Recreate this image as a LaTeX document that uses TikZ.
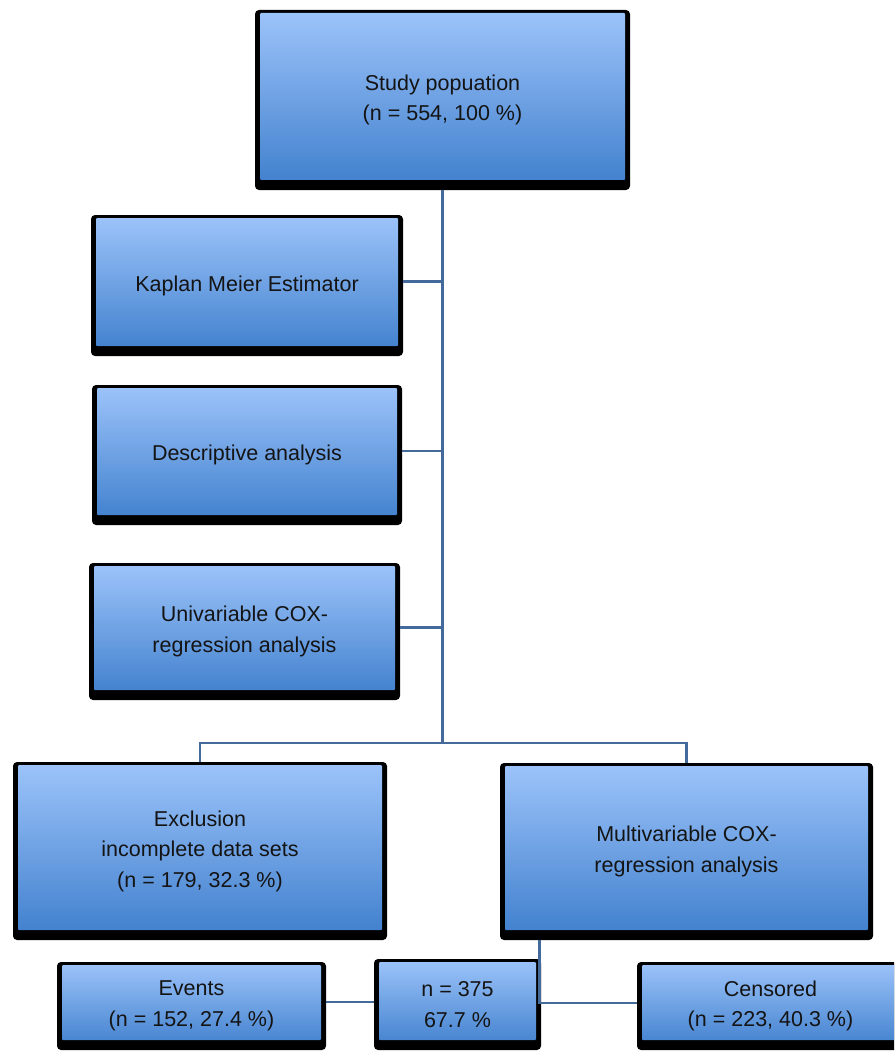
\documentclass[tikz,border=0pt]{standalone}
\usepackage{fontspec}
\setmainfont{Liberation Sans}
\definecolor{boxtop}{RGB}{157,196,250}
\definecolor{boxbot}{RGB}{62,126,204}
\definecolor{linec}{RGB}{68,106,156}
\definecolor{txt}{RGB}{20,20,20}
\begin{document}
\begin{tikzpicture}[x=1pt,y=-1pt,
  box/.style={fill=black, rounded corners=4pt, inner sep=0pt, align=center,
    font=\fontsize{21.5}{30.5}\selectfont, text=txt,
    path picture={\shade[top color=boxtop,bottom color=boxbot,rounded corners=1pt]
      ([xshift=5pt,yshift=-3pt]path picture bounding box.north west) rectangle
      ([xshift=-5pt,yshift=10pt]path picture bounding box.south east);}},
  conn/.style={draw=linec, line width=2.6pt}]
\useasboundingbox (0,0) rectangle (894,1051);
\clip (0,0) rectangle (894,1051);

\node[box, minimum width=375pt, minimum height=180pt] (top) at (442.5,100) {Study popuation\\(n = 554, 100 \%)};
\node[box, minimum width=312pt, minimum height=141pt] (kaplan) at (247,285.5) {Kaplan Meier Estimator};
\node[box, minimum width=310pt, minimum height=140pt] (desc) at (247,455) {Descriptive analysis};
\node[box, minimum width=311pt, minimum height=137pt] (univ) at (244.5,631.5) {Univariable COX-\\regression analysis};
\node[box, minimum width=374pt, minimum height=178pt] (excl) at (200,851) {Exclusion\\incomplete data sets\\(n = 179, 32.3 \%)};
\node[box, minimum width=373pt, minimum height=177pt] (multi) at (686.5,851.5) {Multivariable COX-\\regression analysis};
\node[box, minimum width=269pt, minimum height=88pt] (events) at (191.5,1006) {Events\\(n = 152, 27.4 \%)};
\node[box, minimum width=167pt, minimum height=91pt] (n375) at (457.5,1004.5) {n = 375\\67.7 \%};
\node[box, minimum width=267pt, minimum height=88pt] (cens) at (770.5,1006) {Censored\\(n = 223, 40.3 \%)};

\coordinate (j) at (442.5,743);
\draw[conn] (top.south) -- (j);
\draw[conn] ([yshift=4pt]kaplan.east) -- ([yshift=4pt]kaplan.east -| top.south);
\draw[conn] ([yshift=4pt]desc.east) -- ([yshift=4pt]desc.east -| top.south);
\draw[conn] ([yshift=4pt]univ.east) -- ([yshift=4pt]univ.east -| top.south);
\draw[conn] (excl.north) |- (j) -| (multi.north);
\draw[conn] ([yshift=4pt]events.east) -- ([yshift=2.5pt]n375.west);
\draw[conn] ([xshift=-2pt]multi.south -| n375.east) |- ([yshift=3pt]cens.west);
\end{tikzpicture}
\end{document}
